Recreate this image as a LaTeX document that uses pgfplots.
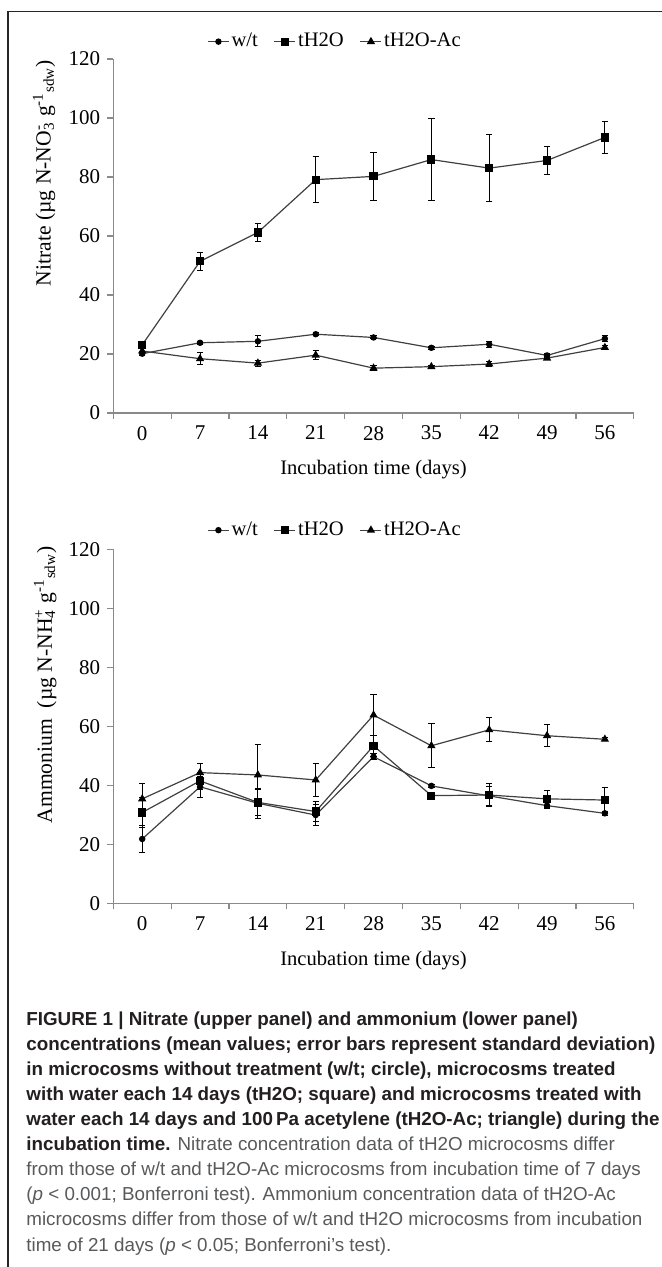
\documentclass[border=0pt]{standalone}
\usepackage{fontspec}
\setmainfont{Liberation Serif}
\newfontfamily\capfont{Liberation Sans}
\usepackage{pgfplots}
\pgfplotsset{compat=1.18}
\usepackage{pgfplotstable}

\definecolor{linegray}{HTML}{404040}
\definecolor{axisgray}{HTML}{8A8A8A}
\definecolor{captxt}{HTML}{58595B}
\definecolor{capbold}{HTML}{231F20}

% ---------- Nitrate (upper panel) ----------
\pgfplotstableread{
x y e
0 20.1 0.7
1 23.8 0.6
2 24.3 1.9
3 26.7 0.6
4 25.6 0.5
5 22.1 0.5
6 23.3 1.1
7 19.5 0.6
8 25.2 1.1
}\ntWT
\pgfplotstableread{
x y e
0 23.1 1.2
1 51.4 3.0
2 61.2 3.0
3 79.1 7.8
4 80.2 8.2
5 85.9 13.8
6 83.0 11.3
7 85.6 4.6
8 93.4 5.4
}\ntH
\pgfplotstableread{
x y e
0 21.0 0.8
1 18.4 2.0
2 16.9 1.0
3 19.6 1.6
4 15.2 0.8
5 15.7 0.5
6 16.6 0.8
7 18.6 0.6
8 22.2 0.7
}\ntAc
% ---------- Ammonium (lower panel) ----------
\pgfplotstableread{
x y e
0 21.8 4.5
1 39.5 3.5
2 33.9 5.0
3 29.9 3.5
4 49.7 1.0
5 39.8 0.6
6 36.4 3.3
7 33.1 1.0
8 30.5 0.6
}\amWT
\pgfplotstableread{
x y e
0 30.8 5.2
1 41.5 3.0
2 34.2 4.3
3 31.1 3.5
4 53.4 3.6
5 36.5 0.5
6 36.7 3.8
7 35.4 2.8
8 35.0 4.2
}\amH
\pgfplotstableread{
x y e
0 35.4 5.2
1 44.3 3.2
2 43.5 10.2
3 41.8 5.7
4 63.8 7.0
5 53.4 7.4
6 58.8 4.1
7 56.8 3.8
8 55.6 0.5
}\amAc

\pgfplotsset{
 panel/.style={
  scale only axis, width=260.25pt, height=177pt,
  xmin=-0.5, xmax=8.5, ymin=0, ymax=120,
  ytick={0,20,...,120},
  xtick={0,...,8}, xticklabels={0,7,14,21,28,35,42,49,56},
  minor xtick={-0.5,0.5,...,8.5},
  axis x line*=bottom, axis y line*=left,
  axis line style={axisgray, line width=0.6pt},
  tick align=outside,
  major x tick style={draw=none},
  minor x tick style={axisgray, line width=0.6pt},
  y tick style={axisgray, line width=0.6pt},
  major tick length=3pt, minor tick length=3pt,
  tick label style={font=\fontsize{10.5}{12}\selectfont},
  /pgf/number format/assume math mode=true,
  xlabel={Incubation time (days)},
  every axis x label/.style={at={(axis description cs:0.5,0)}, anchor=base, yshift=-31pt, font=\fontsize{10.3}{12}\selectfont},
  legend columns=3,
  legend style={draw=none, fill=none, inner sep=0pt, font=\fontsize{10.3}{12}\selectfont,
    /tikz/every even column/.append style={column sep=7pt},
    nodes={inner xsep=1pt, inner ysep=1pt}},
  legend image code/.code={\draw[mark repeat=2, mark phase=2, ##1] plot coordinates {(0pt,0pt) (5.25pt,0pt) (10.5pt,0pt)};},
  error bars/error bar style={black, line width=0.5pt},
  error bars/error mark options={rotate=90, mark size=1.6pt, black, line width=0.5pt},
 },
 s/.style={linegray, line width=0.6pt, mark options={fill=black, draw=black, solid}},
}

\begin{document}
\begin{tikzpicture}
\path[use as bounding box] (0,0) rectangle (331pt,633.5pt);
\draw[line width=0.8pt, black!85] (4pt,0pt) -- (4pt,627.65pt) -- (331pt,627.65pt);

\begin{axis}[panel, at={(56.65pt,427pt)}, anchor=south west,
  ylabel={Nitrate (µg N-NO\rlap{\textsuperscript{-}}\textsubscript{3} g\textsuperscript{-1}\textsubscript{sdw})},
  every axis y label/.style={at={(axis description cs:-0.133,0.678)}, anchor=center, rotate=90, font=\fontsize{10.8}{13}\selectfont},
  legend style={at={(axis description cs:0.426,1.049)}, anchor=center}]
\addplot[s, mark=*, mark size=1.3pt, error bars/.cd, y dir=both, y explicit] table[x=x,y=y,y error=e]{\ntWT};
\addlegendentry{w/t}
\addplot[s, mark=square*, mark size=1.75pt, error bars/.cd, y dir=both, y explicit] table[x=x,y=y,y error=e]{\ntH};
\addlegendentry{tH2O}
\addplot[s, mark=triangle*, mark size=1.8pt, error bars/.cd, y dir=both, y explicit] table[x=x,y=y,y error=e]{\ntAc};
\addlegendentry{tH2O-Ac}
\end{axis}

\begin{axis}[panel, at={(56.65pt,181.85pt)}, anchor=south west,
  ylabel={Ammonium\ \ (µg N-NH\rlap{\textsubscript{4}}\textsuperscript{+} g\textsuperscript{-1}\textsubscript{sdw})},
  every axis y label/.style={at={(axis description cs:-0.131,0.617)}, anchor=center, rotate=90, font=\fontsize{10.8}{13}\selectfont},
  legend style={at={(axis description cs:0.426,1.054)}, anchor=center}]
\addplot[s, mark=*, mark size=1.3pt, error bars/.cd, y dir=both, y explicit] table[x=x,y=y,y error=e]{\amWT};
\addlegendentry{w/t}
\addplot[s, mark=square*, mark size=1.75pt, error bars/.cd, y dir=both, y explicit] table[x=x,y=y,y error=e]{\amH};
\addlegendentry{tH2O}
\addplot[s, mark=triangle*, mark size=1.8pt, error bars/.cd, y dir=both, y explicit] table[x=x,y=y,y error=e]{\amAc};
\addlegendentry{tH2O-Ac}
\end{axis}

\begin{scope}[every node/.style={anchor=base west, inner sep=0pt, font=\capfont\fontsize{9.4}{12.5}\selectfont}]
\node[text=capbold] at (13pt,120.5pt) {\bfseries FIGURE 1 | Nitrate (upper panel) and ammonium (lower panel)};
\node[text=capbold] at (13pt,108pt) {\bfseries concentrations (mean values; error bars represent standard deviation)};
\node[text=capbold] at (13pt,95.5pt) {\bfseries in microcosms without treatment (w/t; circle), microcosms treated};
\node[text=capbold] at (13pt,83pt) {\bfseries with water each 14 days (tH2O; square) and microcosms treated with};
\node[text=capbold] at (13pt,70.5pt) {\bfseries water each 14 days and 100\,Pa acetylene (tH2O-Ac; triangle) during the};
\node[text=captxt] at (13pt,58pt) {\textcolor{capbold}{\bfseries incubation time.} Nitrate concentration data of tH2O microcosms differ};
\node[text=captxt] at (13pt,45.5pt) {from those of w/t and tH2O-Ac microcosms from incubation time of 7 days};
\node[text=captxt] at (13pt,33pt) {(\textit{p} < 0.001; Bonferroni test). Ammonium concentration data of tH2O-Ac};
\node[text=captxt] at (13pt,20.5pt) {microcosms differ from those of w/t and tH2O microcosms from incubation};
\node[text=captxt] at (13pt,8pt) {time of 21 days (\textit{p} < 0.05; Bonferroni’s test).};
\end{scope}
\end{tikzpicture}
\end{document}
